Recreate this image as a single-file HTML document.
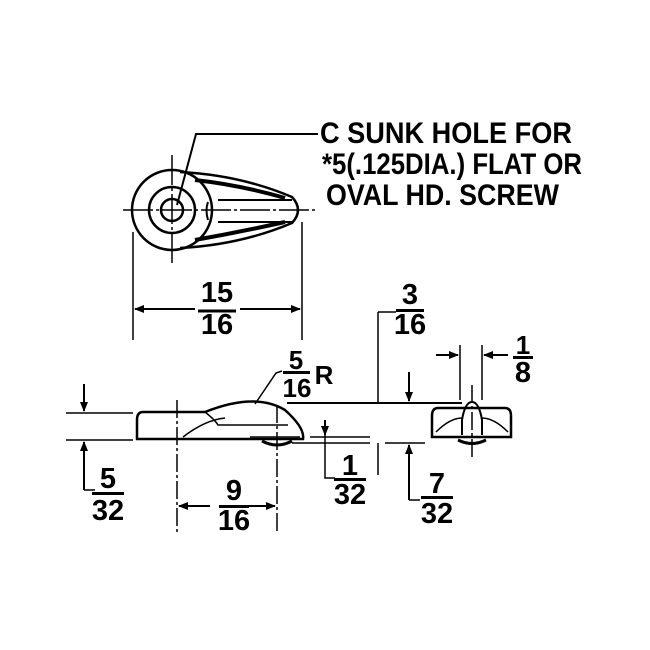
<!DOCTYPE html>
<html><head><style>body{margin:0;background:#fff}svg{display:block}</style></head><body>
<svg width="650" height="650" viewBox="0 0 650 650" xmlns="http://www.w3.org/2000/svg" font-family="Liberation Sans, sans-serif" font-weight="bold">
<defs><marker id="a" markerWidth="10" markerHeight="8" refX="9" refY="4" orient="auto" markerUnits="userSpaceOnUse"><path d="M0,0 L10,4 L0,8 Z" fill="#000"/></marker></defs>
<g stroke="#000" fill="none" stroke-width="2">
<!-- top view -->
<circle cx="172" cy="210" r="40" stroke-width="2.5"/>
<circle cx="172" cy="210" r="23" stroke-width="2.5"/>
<circle cx="172" cy="210" r="11" stroke-width="2.5"/>
<path d="M180,172 Q240,175 292,197 Q304,210 292,223 Q240,245 180,248" stroke-width="2.5"/>
<path d="M218,200 L292,200 M218,222 L292,222 M208,202 Q205,210 208,220"/>
<path d="M195,180 Q240,185 285,198 M195,240 Q240,232 285,222" stroke-width="4"/>
<path d="M123,210 L315,210" stroke-width="1.5" stroke-dasharray="30,3,3,3"/>
<path d="M172,155 L172,266" stroke-width="1.5" stroke-dasharray="30,3,3,3"/>
<path d="M177,205 L196,134 L318,134"/>
<path d="M133,232 L133,340 M302,222 L302,340" stroke-width="1.5"/>
<path d="M195,309 L135,309" marker-end="url(#a)"/>
<path d="M240,309 L300,309" marker-end="url(#a)"/>
<path d="M198,311 L236,311" stroke-width="3"/>
<!-- side view left -->
<path d="M143,412 L205,412 Q255,392 285,410 Q305,428 303,439 L137,439 L137,420 Q137,412 143,412 Z" stroke-width="2.5"/>
<path d="M205,412 Q215,420 218,425 L260,425 L288,425" stroke-width="1.5"/>
<path d="M183,437 Q205,420 225,418" stroke-width="1.5"/>
<path d="M262,441 Q277,449 292,441" stroke-width="3"/>
<path d="M66,413 L133,413 M66,440 L133,440" stroke-width="1.5"/>
<path d="M84,384 L84,411" marker-end="url(#a)"/>
<path d="M84,490 L84,442" marker-end="url(#a)"/>
<path d="M84,490 L95,490" stroke-width="1.5"/>
<path d="M177,400 L177,532 M277,405 L277,532" stroke-width="1.5" stroke-dasharray="18,3,3,3"/>
<path d="M210,506 L179,506" marker-end="url(#a)"/>
<path d="M245,506 L275,506" marker-end="url(#a)"/>
<path d="M255,404 L276,373 L282,371" stroke-width="1.5"/>
<!-- middle dims -->
<path d="M287,403 L462,403" stroke-width="2"/>
<path d="M310,437 L370,437 M292,443 L370,443 M385,443 L425,443 M250,437 L300,437" stroke-width="1.5"/>
<path d="M378,312 L378,403 M378,443 L378,475 M378,312 L396,312" stroke-width="1.5"/>
<path d="M409,372 L409,401" marker-end="url(#a)"/>
<path d="M325,420 L325,435" marker-end="url(#a)"/>
<path d="M325,435 L325,478 L335,478" stroke-width="1.5"/>
<path d="M409,500 L409,445" marker-end="url(#a)"/>
<path d="M409,500 L420,500" stroke-width="1.5"/>
<!-- right piece -->
<path d="M438,408 L505,408 Q511,408 511,416 L511,437 L432,437 L432,416 Q432,408 438,408 Z" stroke-width="2.5"/>
<path d="M462,420 Q465,402 472,402 Q479,402 482,420 L482,435 M462,420 L462,435" stroke-width="2"/>
<path d="M436,432 Q450,418 462,418 M508,432 Q494,418 482,418" stroke-width="1.5"/>
<path d="M458,440 Q472,447 486,440" stroke-width="3"/>
<path d="M472,385 L472,460" stroke-width="1.5" stroke-dasharray="18,3,3,3"/>
<path d="M460,345 L460,400 M482,345 L482,400" stroke-width="1.5"/>
<path d="M436,355 L458,355" marker-end="url(#a)"/>
<path d="M508,355 L484,355" marker-end="url(#a)"/>
</g>
<g fill="#000" font-size="30">
<text x="320" y="143" textLength="252" lengthAdjust="spacingAndGlyphs">C SUNK HOLE FOR</text>
<text x="322" y="174" textLength="260" lengthAdjust="spacingAndGlyphs">*5(.125DIA.) FLAT OR</text>
<text x="326" y="205" textLength="233" lengthAdjust="spacingAndGlyphs">OVAL HD. SCREW</text>
</g>
<g fill="#000" font-size="29" text-anchor="middle">
<text x="217" y="302">15</text><text x="217" y="334">16</text>
<text x="410" y="304">3</text><text x="410" y="334">16</text>
<rect x="396" y="309" width="28" height="3"/>
<text x="296" y="369" font-size="26">5</text><text x="297" y="397" font-size="26">16</text>
<rect x="283" y="371" width="27" height="3"/>
<text x="324" y="384" font-size="26">R</text>
<text x="523" y="354" font-size="26">1</text><text x="523" y="382">8</text>
<rect x="513" y="356" width="20" height="3"/>
<text x="108" y="488">5</text><text x="108" y="520">32</text>
<rect x="92" y="492" width="32" height="3"/>
<text x="234" y="500">9</text><text x="234" y="530">16</text>
<rect x="219" y="505" width="30" height="3"/>
<text x="350" y="475">1</text><text x="350" y="504">32</text>
<rect x="334" y="478" width="32" height="3"/>
<text x="437" y="493">7</text><text x="437" y="523">32</text>
<rect x="421" y="496" width="32" height="3"/>
</g>
</svg>
</body></html>
